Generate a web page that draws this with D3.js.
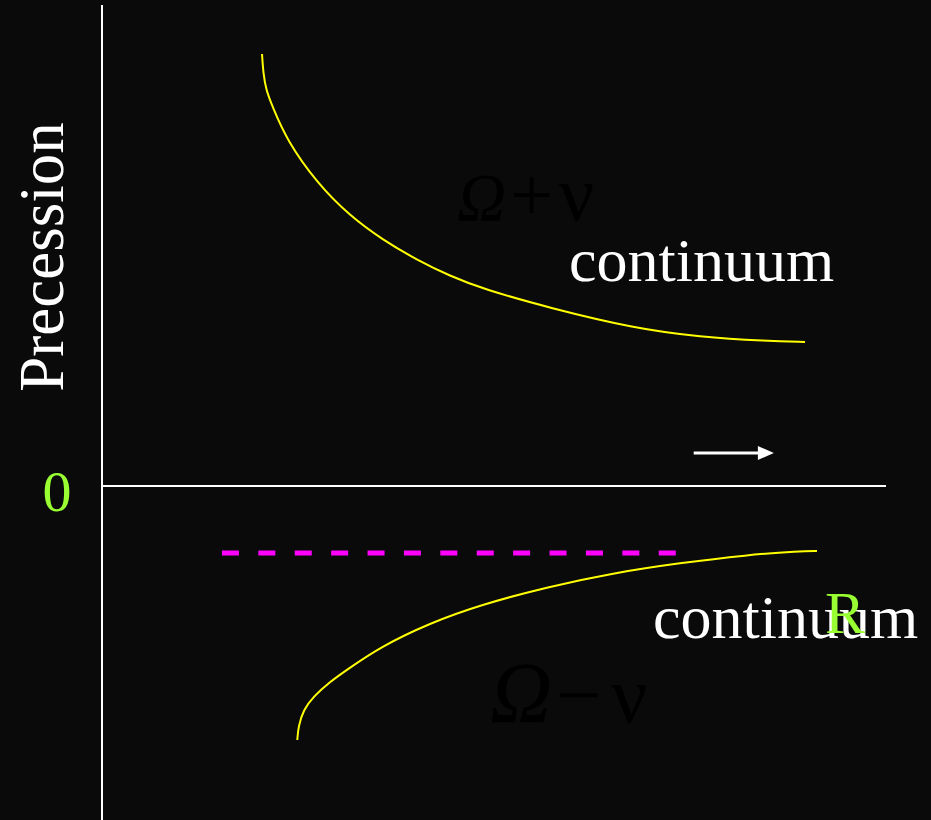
<!DOCTYPE html>
<html>
<head>
<meta charset="utf-8">
<script src="https://cdn.jsdelivr.net/npm/d3@7"></script>
<style>
  html, body { margin: 0; padding: 0; background: #0a0a0a; }
  svg { display: block; }
</style>
</head>
<body>
<script>
// Upper branch (Ω + ν): radius vs precession rate
const upperR    = [2.041, 2.057, 2.092, 2.177, 2.356, 2.742, 3.163, 3.584, 4.018, 4.439, 4.860, 5.714, 6.773, 7.628, 8.482, 8.967];
const upperRate = [10.80, 10.325, 9.90, 9.475, 8.65, 7.575, 6.75, 6.15, 5.65, 5.25, 4.925, 4.45, 3.95, 3.725, 3.625, 3.60];

// Lower branch (Ω − ν)
const lowerR    = [2.491, 2.504, 2.568, 2.695, 2.908, 3.121, 3.546, 4.184, 4.821, 5.676, 6.518, 7.372, 8.227, 8.903, 9.120];
const lowerRate = [-6.35, -6.0175, -5.60, -5.2675, -4.8925, -4.60, -4.025, -3.425, -2.975, -2.525, -2.175, -1.925, -1.725, -1.625, -1.625];

// Reference level (dashed) and its radial extent
const dashLevel = -1.675;
const dashRange = [1.53, 7.32];

// Direction-of-increasing-R arrow
const arrowR = [7.547, 8.57];
const arrowRate = 0.825;

const zeroLabel = "0";
const axisLabel = "Precession";
const rLabel = "R";
const continuumLabel = "continuum";

const W = 931, H = 820;
const svg = d3.select("body").append("svg").attr("width", W).attr("height", H);
svg.append("rect").attr("width", W).attr("height", H).attr("fill", "#0a0a0a");

const x = d3.scaleLinear().domain([0, 10]).range([102, 886]);
const y = d3.scaleLinear().domain([0, 10]).range([486, 86]);

const serif = "'Liberation Serif', 'Times New Roman', serif";

// Axes
svg.append("line").attr("x1", x(0)).attr("x2", x(0)).attr("y1", 5).attr("y2", H)
  .attr("stroke", "#fff").attr("stroke-width", 2);
svg.append("line").attr("x1", x(0)).attr("x2", x(10)).attr("y1", y(0)).attr("y2", y(0))
  .attr("stroke", "#fff").attr("stroke-width", 2);

// Dark formula labels
svg.append("text").attr("x", 457).attr("y", 220).attr("fill", "#000")
  .attr("font-family", serif).attr("font-size", 68)
  .call(t => {
    t.append("tspan").attr("font-style", "italic").text("Ω");
    t.append("tspan").attr("dx", 4).attr("font-size", 76).text("+");
    t.append("tspan").attr("dx", 6).attr("font-size", 78).text("ν");
  });
svg.append("text").attr("x", 490).attr("y", 722).attr("fill", "#000")
  .attr("font-family", serif).attr("font-size", 86)
  .call(t => {
    t.append("tspan").attr("font-style", "italic").text("Ω");
    t.append("tspan").attr("dx", 4).attr("font-size", 80).text("−");
    t.append("tspan").attr("dx", 10).attr("font-size", 80).text("ν");
  });

// Curves (B-spline through the sampled points)
const line = d3.line().x(d => x(d[0])).y(d => y(d[1])).curve(d3.curveBasis);
svg.append("path").datum(d3.zip(upperR, upperRate)).attr("d", line)
  .attr("fill", "none").attr("stroke", "#ffff00").attr("stroke-width", 2);
svg.append("path").datum(d3.zip(lowerR, lowerRate)).attr("d", line)
  .attr("fill", "none").attr("stroke", "#ffff00").attr("stroke-width", 2);

// Dashed reference level
svg.append("line").attr("x1", x(dashRange[0])).attr("x2", x(dashRange[1]))
  .attr("y1", y(dashLevel)).attr("y2", y(dashLevel))
  .attr("stroke", "#ff00ff").attr("stroke-width", 5).attr("stroke-dasharray", "17 19.4");

// Arrow
const ay = y(arrowRate);
svg.append("line").attr("x1", x(arrowR[0])).attr("x2", x(arrowR[1]) - 14)
  .attr("y1", ay).attr("y2", ay).attr("stroke", "#fff").attr("stroke-width", 3);
svg.append("path")
  .attr("d", `M${x(arrowR[1])},${ay} L${x(arrowR[1]) - 16},${ay - 7} L${x(arrowR[1]) - 16},${ay + 7} Z`)
  .attr("fill", "#fff");

// Labels
svg.append("text").attr("transform", "translate(63,257) rotate(-90)")
  .attr("text-anchor", "middle").attr("fill", "#fff")
  .attr("font-family", serif).attr("font-size", 63).text(axisLabel);

svg.append("text").attr("x", 57).attr("y", 511).attr("text-anchor", "middle")
  .attr("fill", "#99ff33").attr("font-family", serif).attr("font-size", 58).text(zeroLabel);

svg.append("text").attr("x", 569).attr("y", 281).attr("fill", "#fff")
  .attr("font-family", serif).attr("font-size", 62).text(continuumLabel);

svg.append("text").attr("x", 653).attr("y", 638).attr("fill", "#fff")
  .attr("font-family", serif).attr("font-size", 62).text(continuumLabel);

svg.append("text").attr("x", 825).attr("y", 633).attr("fill", "#99ff33")
  .attr("font-family", serif).attr("font-size", 60).text(rLabel);
</script>
</body>
</html>
